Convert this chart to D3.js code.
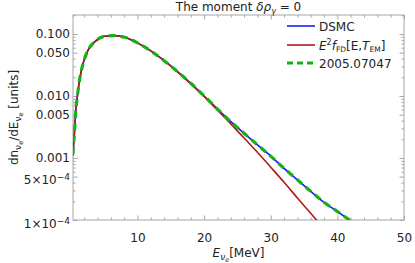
<!DOCTYPE html>
<html>
<head>
<meta charset="utf-8">
<script src="https://cdn.jsdelivr.net/npm/d3@7"></script>
<style>
  body { margin: 0; background: #fff; }
  text { font-family: "DejaVu Sans", sans-serif; }
</style>
</head>
<body>
<svg id="chart"></svg>
<script>
// values
const fdEnergy = [0.32, 0.4, 0.5, 0.75, 1, 1.35, 1.85, 2.6, 3.6, 4.85, 5.5, 6.3, 7.2, 8.1, 10, 12, 14, 16, 18, 20, 22, 24, 26, 28, 30, 32, 34, 36, 38];
const fdValue = [1.1e-3, 1.6e-3, 2.23e-3, 6.0e-3, 0.0104, 0.0194, 0.0338, 0.0553, 0.0752, 0.0905, 0.0928, 0.0940, 0.0925, 0.0885, 0.0718, 0.0532, 0.0370, 0.0245, 0.0157, 0.0098, 5.9e-3, 3.55e-3, 2.1e-3, 1.24e-3, 7.1e-4, 4.05e-4, 2.27e-4, 1.28e-4, 7.2e-5];

const dsmcEnergy = [0.32, 0.4, 0.5, 0.75, 1, 1.35, 1.85, 2.6, 3.6, 4.85, 5.5, 6.3, 7.2, 8.1, 10, 12, 14, 16, 18, 20, 22, 24, 26, 28, 30, 32, 34, 36, 38, 40, 42, 44];
const dsmcValue = [1.1e-3, 1.6e-3, 2.23e-3, 6.0e-3, 0.0104, 0.0194, 0.0338, 0.0553, 0.0752, 0.0905, 0.0928, 0.0940, 0.0925, 0.0885, 0.0718, 0.0532, 0.0371, 0.0247, 0.0160, 0.0100, 6.15e-3, 3.85e-3, 2.5e-3, 1.63e-3, 1.07e-3, 6.8e-4, 4.45e-4, 2.9e-4, 1.93e-4, 1.37e-4, 9.7e-5, 6.9e-5];

const refEnergy = [0.32, 0.4, 0.5, 0.75, 1, 1.35, 1.85, 2.6, 3.6, 4.85, 5.5, 6.3, 7.2, 8.1, 10, 12, 14, 16, 18, 20, 22, 24, 26, 28, 30, 32, 34, 36, 38, 40, 42, 44];
const refValue = [1.15e-3, 1.65e-3, 2.25e-3, 6.0e-3, 0.0104, 0.0194, 0.0338, 0.0553, 0.0752, 0.0905, 0.0928, 0.0940, 0.0925, 0.0885, 0.0718, 0.0532, 0.0371, 0.0247, 0.0160, 0.0100, 6.15e-3, 3.85e-3, 2.5e-3, 1.63e-3, 1.07e-3, 6.8e-4, 4.45e-4, 2.9e-4, 1.93e-4, 1.37e-4, 9.7e-5, 6.9e-5];

const xMajor = [10, 20, 30, 40, 50];
const xMinor = [2, 4, 6, 8, 12, 14, 16, 18, 22, 24, 26, 28, 32, 34, 36, 38, 42, 44, 46, 48];
const yMajor = [1e-4, 5e-4, 0.001, 0.005, 0.01, 0.05, 0.1];
const yMajorLabels = ["1×10^-4", "5×10^-4", "0.001", "0.005", "0.010", "0.050", "0.100"];
const yMinor = [2e-4, 3e-4, 4e-4, 6e-4, 7e-4, 8e-4, 9e-4, 0.002, 0.003, 0.004, 0.006, 0.007, 0.008, 0.009, 0.02, 0.03, 0.04, 0.06, 0.07, 0.08, 0.09, 0.2];

const colors = { dsmc: "#1a1aff", fd: "#b3191b", ref: "#13b313" };

const wSvg = 415;
const hSvg = 263;
const margin = { top: 15, right: 11, bottom: 43, left: 73 };

const svg = d3.select("#chart")
  .attr("width", wSvg)
  .attr("height", hSvg);

const x = d3.scaleLinear()
  .domain([0.32, 50])
  .range([margin.left, wSvg - margin.right]);

const y = d3.scaleLog()
  .domain([1e-4, 0.202])
  .range([hSvg - margin.bottom, margin.top]);

const frameColor = "#a6a6a6";

// axes with inward ticks
function styleAxis(g) {
  g.select(".domain").remove();
  g.selectAll(".tick line").attr("stroke", frameColor);
  g.selectAll(".tick text").attr("fill", "#222").style("font-size", "12px").style("font-family", "DejaVu Sans");
}

svg.append("g")
  .attr("transform", `translate(0, ${hSvg - margin.bottom})`)
  .call(d3.axisBottom(x).tickValues(xMajor).tickSize(-4.5).tickPadding(13).tickFormat(d3.format("d")))
  .call(styleAxis);
svg.append("g")
  .attr("transform", `translate(0, ${hSvg - margin.bottom})`)
  .call(d3.axisBottom(x).tickValues(xMinor).tickSize(-2.5).tickFormat(""))
  .call(styleAxis);
svg.append("g")
  .attr("transform", `translate(0, ${margin.top})`)
  .call(d3.axisTop(x).tickValues(xMajor).tickSize(-4.5).tickFormat(""))
  .call(styleAxis);
svg.append("g")
  .attr("transform", `translate(0, ${margin.top})`)
  .call(d3.axisTop(x).tickValues(xMinor).tickSize(-2.5).tickFormat(""))
  .call(styleAxis);

const yAxisG = svg.append("g")
  .attr("transform", `translate(${margin.left}, 0)`)
  .call(d3.axisLeft(y).tickValues(yMajor).tickSize(-4.5).tickPadding(3).tickFormat(""))
  .call(styleAxis);
svg.append("g")
  .attr("transform", `translate(${margin.left}, 0)`)
  .call(d3.axisLeft(y).tickValues(yMinor).tickSize(-2.5).tickFormat(""))
  .call(styleAxis);
svg.append("g")
  .attr("transform", `translate(${wSvg - margin.right}, 0)`)
  .call(d3.axisRight(y).tickValues(yMajor).tickSize(-4.5).tickFormat(""))
  .call(styleAxis);
svg.append("g")
  .attr("transform", `translate(${wSvg - margin.right}, 0)`)
  .call(d3.axisRight(y).tickValues(yMinor).tickSize(-2.5).tickFormat(""))
  .call(styleAxis);

// y labels, some with a power of ten
yAxisG.selectAll(".tick text").each(function (d, i) {
  const t = d3.select(this).text(null);
  const lab = yMajorLabels[i];
  if (lab.includes("^")) {
    const parts = lab.split("^");
    t.append("tspan").text(parts[0]);
    t.append("tspan").attr("dy", "-0.45em").style("font-size", "9px").text(parts[1].replace("-", "−"));
    t.attr("dy", "0.6em");
  } else {
    t.text(lab);
  }
});

svg.append("rect")
  .attr("x", margin.left)
  .attr("y", margin.top)
  .attr("width", wSvg - margin.left - margin.right)
  .attr("height", hSvg - margin.top - margin.bottom)
  .attr("fill", "none")
  .attr("stroke", frameColor)
  .attr("stroke-width", 1);

// curves
svg.append("clipPath").attr("id", "plotClip")
  .append("rect")
  .attr("x", margin.left)
  .attr("y", margin.top)
  .attr("width", wSvg - margin.left - margin.right)
  .attr("height", hSvg - margin.top - margin.bottom);

const line = d3.line()
  .x(d => x(d[0]))
  .y(d => y(d[1]))
  .curve(d3.curveMonotoneX);

const plot = svg.append("g").attr("clip-path", "url(#plotClip)");

plot.append("path")
  .attr("d", line(d3.zip(dsmcEnergy, dsmcValue)))
  .attr("fill", "none")
  .attr("stroke", colors.dsmc)
  .attr("stroke-width", 1.6);

plot.append("path")
  .attr("d", line(d3.zip(fdEnergy, fdValue)))
  .attr("fill", "none")
  .attr("stroke", colors.fd)
  .attr("stroke-width", 1.6);

plot.append("path")
  .attr("d", line(d3.zip(refEnergy, refValue)))
  .attr("fill", "none")
  .attr("stroke", colors.ref)
  .attr("stroke-width", 3.2)
  .attr("stroke-dasharray", "7,5");

// text helper: pieces of [text, options]
function richText(parent, pieces) {
  const t = parent.append("text").attr("fill", "#222");
  for (const [s, o] of pieces) {
    const sp = t.append("tspan").text(s);
    if (o && o.italic) sp.style("font-style", "italic");
    if (o && o.size) sp.style("font-size", o.size + "px");
    if (o && o.dy) sp.attr("dy", o.dy);
  }
  return t;
}

// title
richText(svg, [
  ["The moment "], ["δρ", { italic: true }], ["γ", { italic: true, size: 8, dy: 3 }], [" = 0", { dy: -3 }]
]).attr("x", (margin.left + wSvg - margin.right) / 2).attr("y", 11)
  .attr("text-anchor", "middle").style("font-size", "12px");

// x label
richText(svg, [
  ["E", { italic: true }], ["ν", { italic: true, size: 9, dy: 3 }], ["e", { italic: true, size: 6.5, dy: 2 }], ["[MeV]", { dy: -5 }]
]).attr("x", (margin.left + wSvg - margin.right) / 2).attr("y", 257)
  .attr("text-anchor", "middle").style("font-size", "12px");

// y label
richText(svg, [
  ["dn"], ["ν", { size: 9, dy: 3 }], ["e", { size: 6.5, dy: 2 }], ["/dE", { dy: -5 }],
  ["ν", { size: 9, dy: 3 }], ["e", { size: 6.5, dy: 2 }], [" [units]", { dy: -5 }]
]).attr("transform", `translate(18, ${(margin.top + hSvg - margin.bottom) / 2}) rotate(-90)`)
  .attr("text-anchor", "middle").style("font-size", "12px");

// legend
const legendItems = [
  { color: colors.dsmc, width: 1.6, dash: null, pieces: [["DSMC"]] },
  { color: colors.fd, width: 1.6, dash: null, pieces: [
    ["E", { italic: true }], ["2", { size: 8, dy: -5 }], ["f", { italic: true, dy: 5 }], ["FD", { size: 7.5, dy: 2 }],
    ["[E,", { dy: -2 }], ["T", { italic: true }], ["EM", { size: 7.5, dy: 2 }], ["]", { dy: -2 }]
  ] },
  { color: colors.ref, width: 3.2, dash: "6,4", pieces: [["2005.07047"]] }
];
const legendY = [26, 45, 63];

legendItems.forEach((item, i) => {
  svg.append("line")
    .attr("x1", 287).attr("x2", 315)
    .attr("y1", legendY[i]).attr("y2", legendY[i])
    .attr("stroke", item.color)
    .attr("stroke-width", item.width)
    .attr("stroke-dasharray", item.dash);
  richText(svg, item.pieces)
    .attr("x", 319).attr("y", legendY[i] + 4.5)
    .style("font-size", "12px");
});
</script>
</body>
</html>
